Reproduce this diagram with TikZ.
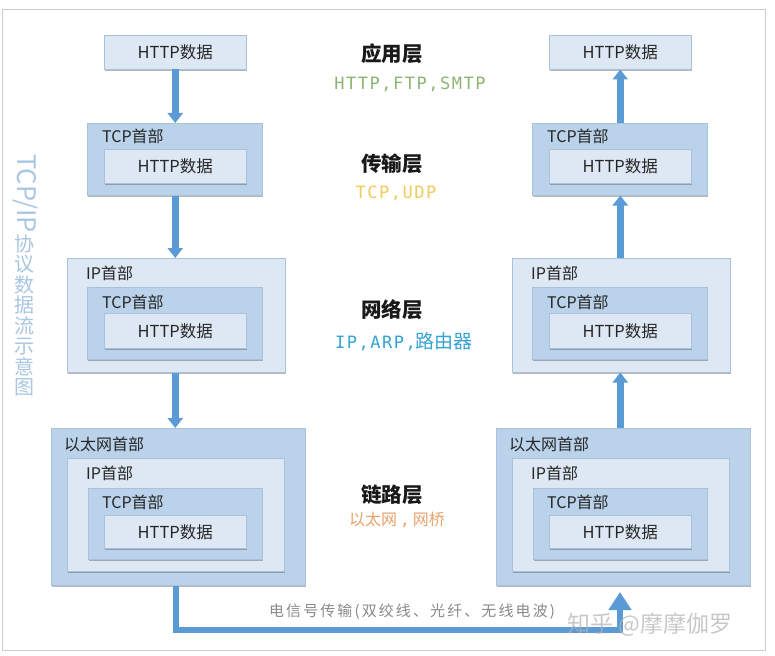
\documentclass[tikz,border=0pt]{standalone}
\usepackage{fontspec}
\setmainfont{Noto Sans CJK SC}
\newfontfamily\cjk{Noto Sans CJK SC}
\newfontfamily\monof[LetterSpace=9]{DejaVu Sans Mono}
\newfontfamily\spacedcjk[LetterSpace=14]{Noto Sans CJK SC}
\usetikzlibrary{shadows,arrows.meta}
\definecolor{lightfill}{HTML}{DDE8F4}
\definecolor{midfill}{HTML}{BAD2EA}
\definecolor{boxedge}{HTML}{A9C2DC}
\definecolor{arrowc}{HTML}{5B9BD5}
\definecolor{framec}{HTML}{CCCCCC}
\definecolor{greenc}{HTML}{8DB474}
\definecolor{yellowc}{HTML}{EECB5A}
\definecolor{bluec}{HTML}{35A3D4}
\definecolor{orangec}{HTML}{E8A36A}
\definecolor{vtc}{HTML}{A9C6E2}
\definecolor{sigc}{HTML}{8A8A8A}
\tikzset{
  pbox/.style={draw=boxedge, line width=0.5pt, inner sep=0, anchor=north west,
    drop shadow={shadow xshift=1.2pt, shadow yshift=-1.8pt, opacity=0.4, fill=black!70}},
  lightbox/.style={pbox, fill=lightfill, font=\fontsize{16.5}{18}\selectfont, text=black!85},
  midbox/.style={pbox, fill=midfill},
  lbl/.style={font=\fontsize{16}{18}\selectfont, inner sep=0, anchor=west, text=black!85},
  flow/.style={draw=arrowc, line width=7pt, -{Triangle[length=10pt,width=15pt]}},
  busline/.style={draw=arrowc, line width=6pt, line join=miter, -{Triangle[length=18pt,width=22pt]}},
  layer/.style={font=\fontsize{20.5}{22}\selectfont\bfseries, inner sep=0, text=black!90},
  proto/.style={font=\fontsize{17}{18}\monof, inner sep=0},
}
\begin{document}
\begin{tikzpicture}[x=1pt,y=-1pt]
\useasboundingbox (0,0) rectangle (775,655);
\fill[white] (0,0) rectangle (775,655);
\draw[framec, line width=0.8pt] (2,9) rectangle (765,650);

% ---------- left column ----------
\node[lightbox, minimum width=142pt, minimum height=34pt] (h1) at (104,35) {HTTP数据};

\node[midbox, minimum width=175pt, minimum height=72pt] (t2) at (87,123) {};
\node[lbl] (lt2) at ([xshift=15pt,yshift=-13pt]t2.north west) {TCP首部};
\node[lightbox, minimum width=142pt, minimum height=34pt] (h2) at (104,149) {HTTP数据};

\node[lightbox, minimum width=218pt, minimum height=114pt] (i3) at (67,258) {};
\node[lbl] (li3) at ([xshift=19pt,yshift=-15pt]i3.north west) {IP首部};
\node[midbox, minimum width=175pt, minimum height=72pt] (t3) at (87,287) {};
\node[lbl] (lt3) at ([xshift=15pt,yshift=-15pt]t3.north west) {TCP首部};
\node[lightbox, minimum width=142pt, minimum height=35pt] (h3) at (104,313) {HTTP数据};

\node[midbox, minimum width=254pt, minimum height=157pt] (e4) at (51,428) {};
\node[lbl] (le4) at ([xshift=13pt,yshift=-16pt]e4.north west) {以太网首部};
\node[lightbox, minimum width=217pt, minimum height=113pt] (i4) at (67,458) {};
\node[lbl] (li4) at ([xshift=19pt,yshift=-15pt]i4.north west) {IP首部};
\node[midbox, minimum width=174pt, minimum height=71pt] (t4) at (88,488) {};
\node[lbl] (lt4) at ([xshift=14pt,yshift=-14pt]t4.north west) {TCP首部};
\node[lightbox, minimum width=142pt, minimum height=33pt] (h4) at (104,515) {HTTP数据};

% ---------- right column ----------
\node[lightbox, minimum width=142pt, minimum height=34pt] (rh1) at (549,35) {HTTP数据};

\node[midbox, minimum width=175pt, minimum height=72pt] (rt2) at (532,123) {};
\node[lbl] (rlt2) at ([xshift=15pt,yshift=-13pt]rt2.north west) {TCP首部};
\node[lightbox, minimum width=142pt, minimum height=34pt] (rh2) at (549,149) {HTTP数据};

\node[lightbox, minimum width=218pt, minimum height=114pt] (ri3) at (512,258) {};
\node[lbl] (rli3) at ([xshift=19pt,yshift=-15pt]ri3.north west) {IP首部};
\node[midbox, minimum width=175pt, minimum height=72pt] (rt3) at (532,287) {};
\node[lbl] (rlt3) at ([xshift=15pt,yshift=-15pt]rt3.north west) {TCP首部};
\node[lightbox, minimum width=142pt, minimum height=35pt] (rh3) at (549,313) {HTTP数据};

\node[midbox, minimum width=254pt, minimum height=157pt] (re4) at (496,428) {};
\node[lbl] (rle4) at ([xshift=13pt,yshift=-16pt]re4.north west) {以太网首部};
\node[lightbox, minimum width=217pt, minimum height=113pt] (ri4) at (512,458) {};
\node[lbl] (rli4) at ([xshift=19pt,yshift=-15pt]ri4.north west) {IP首部};
\node[midbox, minimum width=174pt, minimum height=71pt] (rt4) at (533,488) {};
\node[lbl] (rlt4) at ([xshift=14pt,yshift=-14pt]rt4.north west) {TCP首部};
\node[lightbox, minimum width=142pt, minimum height=33pt] (rh4) at (549,515) {HTTP数据};

% ---------- arrows ----------
\draw[flow] (h1.south) -- (h1.south |- t2.north);
\draw[flow] (h2.south |- t2.south) -- (h2.south |- i3.north);
\draw[flow] (h3.south |- i3.south) -- (h3.south |- e4.north);

\draw[flow] (rh2.north |- rt2.north) -- (rh1.south);
\draw[flow] (rh2.north |- ri3.north) -- (rh2.north |- rt2.south);
\draw[flow] (rh3.north |- re4.north) -- (rh3.north |- ri3.south);

\coordinate (busL) at (176,630);
\coordinate (busR) at (620,630);
\coordinate (busTip) at (620,592);
\draw[busline] (busL |- e4.south) -- (busL) -- (busR) -- (busTip);

% ---------- layer labels ----------
\node[layer] (l1) at (392,54) {应用层};
\node[proto, text=greenc] (p1) at (410,84) {HTTP,FTP,SMTP};
\node[layer] (l2) at (392,164) {传输层};
\node[proto, text=yellowc] (p2) at (396,193) {TCP,UDP};
\node[layer] (l3) at (392,310) {网络层};
\node[proto, text=bluec] (p3) at (404,342) {IP,ARP,{\fontsize{19}{20}\cjk 路由器}};
\node[layer] (l4) at (392,495) {链路层};
\node[inner sep=0, text=orangec, font=\fontsize{16}{18}\cjk] (p4) at (397,520) {以太网\hspace{3pt}{\monof ,}\hspace{3pt}网桥};

% ---------- vertical title ----------
\node[rotate=-90, anchor=west, inner sep=0, font=\fontsize{25.5}{26}\selectfont, text=vtc] (vt1) at (25,154) {TCP/IP};
\node[anchor=north, align=center, inner sep=0, font=\fontsize{20}{20.5}\selectfont, text=vtc] (vt2) at (24,234) {协\\议\\数\\据\\流\\示\\意\\图};

% ---------- signal label ----------
\node[inner sep=0, text=sigc, font=\fontsize{15}{18}\spacedcjk] (sig) at (412,612) {电信号传输(双绞线、光纤、无线电波)};

% ---------- watermark ----------
\node[inner sep=0, text=black!30, opacity=0.7, font=\fontsize{23}{24}\cjk] (wm) at (650,625) {知乎 @摩摩伽罗};
\end{tikzpicture}
\end{document}
